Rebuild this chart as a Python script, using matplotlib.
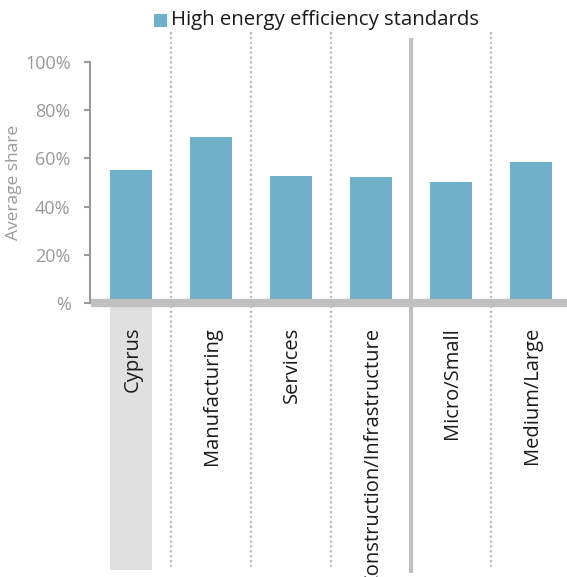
import matplotlib
matplotlib.use("Agg")
import matplotlib.pyplot as plt
from matplotlib.patches import Rectangle

categories = ["Cyprus", "Manufacturing", "Services", "Construction/Infrastructure", "Micro/Small", "Medium/Large"]
values = [0.55, 0.69, 0.527, 0.524, 0.502, 0.585]
yticks = [0, 0.2, 0.4, 0.6, 0.8, 1.0]
ytick_labels = ["%", "20%", "40%", "60%", "80%", "100%"]
series_name = "High energy efficiency standards"

FONT = "Open Sans"
plt.rcParams["font.family"] = [FONT, "DejaVu Sans"]

W, H = 567, 577
fig = plt.figure(figsize=(W / 100, H / 100), dpi=100)
ax_left, ax_bottom, ax_top = 90, 303, 62
ax = fig.add_axes([ax_left / W, (H - ax_bottom) / H, (W - ax_left) / W, (ax_bottom - ax_top) / H])

bar_color = "#70b0c8"
ax.bar(range(len(categories)), values, width=0.525, color=bar_color, zorder=2)
ax.set_xlim(-0.5125, 5.456)
ax.set_ylim(0, 1)

px = 1 / (ax_bottom - ax_top)  # data units per pixel vertically

# axes styling
for s in ["top", "right", "bottom"]:
    ax.spines[s].set_visible(False)
ax.spines["left"].set_color("#999999")
ax.spines["left"].set_linewidth(1.5)
ax.set_xticks([])
ax.set_yticks(yticks)
ax.set_yticklabels(ytick_labels)
ax.tick_params(axis="y", colors="#999999", labelcolor="#999999", length=4, width=1.5,
               labelsize=13, pad=10)
ax.set_ylabel("Average share", color="#999999", fontsize=12.5, labelpad=2)

# baseline thick gray line
ax.plot([-0.5, 5.456], [0, 0], color="#c0c0c0", lw=6, solid_capstyle="butt",
        zorder=3, clip_on=False)

# separators
for xs in [0.5, 1.5, 2.5, 4.5]:
    ax.plot([xs, xs], [1 + 30 * px, -(567 - ax_bottom) * px], color="#bbbbbb",
            lw=1.6, ls=(0, (1, 1.2)), zorder=1, clip_on=False)
ax.plot([3.5, 3.5], [1 + 24 * px, -(573 - ax_bottom) * px], color="#c0c0c0",
        lw=3, solid_capstyle="butt", zorder=4, clip_on=False)

# Cyprus highlight box
ax.add_patch(Rectangle((-0.2625, -(570 - ax_bottom) * px), 0.525, (570 - 307) * px,
                       facecolor="#e0e0e0", edgecolor="none", clip_on=False, zorder=0))

# category labels
for i, c in enumerate(categories):
    ax.text(i + 0.02, -(327 - ax_bottom) * px, c, rotation=90, ha="center", va="top",
            fontsize=14.5, color="#1a1a1a", clip_on=False, zorder=5)

# legend
fig.patches.append(Rectangle((154 / W, (H - 27) / H), 13 / W, 13 / H, transform=fig.transFigure,
                             facecolor=bar_color, edgecolor="none"))
fig.text(171 / W, (H - 20.5) / H, series_name, ha="left", va="center", fontsize=14.7, color="#1a1a1a")

fig.savefig("out.png", dpi=100)
